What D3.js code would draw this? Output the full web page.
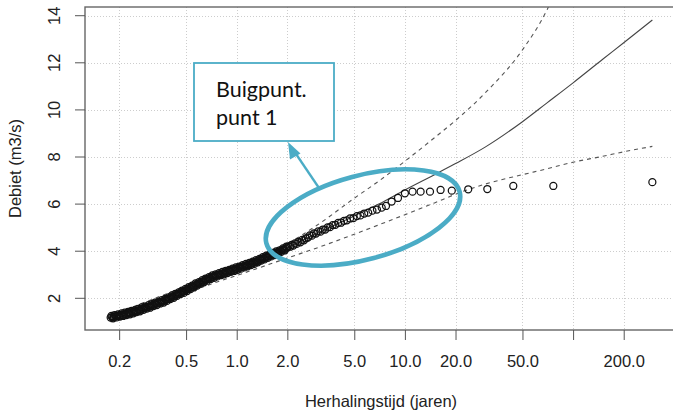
<!DOCTYPE html>
<html>
<head>
<meta charset="utf-8">
<script src="https://cdn.jsdelivr.net/npm/d3@7"></script>
<style>
  html, body { margin: 0; padding: 0; background: #fff; }
  svg { display: block; }
  .rtext { font-family: "Liberation Sans", Arial, sans-serif; font-size: 16.5px; fill: #222; }
</style>
</head>
<body>
<svg id="chart" width="673" height="414"></svg>
<script>
// Observed discharges (m3/s) against their return period (years)
const returnPeriod = [
  0.178, 0.180, 0.182, 0.184, 0.186, 0.188, 0.191, 0.193, 0.195, 0.197,
  0.200, 0.202, 0.204, 0.207, 0.209, 0.211, 0.214, 0.216, 0.219, 0.221,
  0.224, 0.226, 0.229, 0.232, 0.234, 0.237, 0.240, 0.243, 0.246, 0.248,
  0.251, 0.254, 0.257, 0.260, 0.263, 0.266, 0.269, 0.272, 0.275, 0.279,
  0.282, 0.285, 0.288, 0.292, 0.295, 0.299, 0.302, 0.305, 0.309, 0.313,
  0.316, 0.320, 0.324, 0.327, 0.331, 0.335, 0.339, 0.343, 0.347, 0.351,
  0.355, 0.359, 0.363, 0.368, 0.372, 0.376, 0.380, 0.385, 0.389, 0.394,
  0.398, 0.403, 0.407, 0.412, 0.417, 0.422, 0.427, 0.432, 0.437, 0.442,
  0.447, 0.452, 0.457, 0.463, 0.468, 0.474, 0.479, 0.485, 0.490, 0.496,
  0.501, 0.507, 0.513, 0.519, 0.525, 0.531, 0.537, 0.543, 0.550, 0.556,
  0.562, 0.569, 0.575, 0.582, 0.589, 0.596, 0.603, 0.610, 0.617, 0.624,
  0.631, 0.638, 0.646, 0.653, 0.661, 0.669, 0.676, 0.684, 0.692, 0.700,
  0.708, 0.716, 0.724, 0.733, 0.741, 0.750, 0.759, 0.767, 0.776, 0.785,
  0.794, 0.804, 0.813, 0.822, 0.832, 0.841, 0.851, 0.861, 0.871, 0.881,
  0.891, 0.902, 0.912, 0.923, 0.933, 0.944, 0.955, 0.966, 0.977, 0.989,
  1.000, 1.012, 1.023, 1.035, 1.047, 1.059, 1.072, 1.084, 1.096, 1.109,
  1.122, 1.135, 1.148, 1.161, 1.175, 1.189, 1.202, 1.216, 1.230, 1.245,
  1.259, 1.274, 1.288, 1.303, 1.318, 1.334, 1.349, 1.365, 1.380, 1.396,
  1.413, 1.429, 1.445, 1.462, 1.479, 1.496, 1.514, 1.531, 1.549, 1.567,
  1.585, 1.603, 1.622, 1.641, 1.660, 1.679, 1.698, 1.718, 1.738, 1.758,
  1.778, 1.799, 1.820, 1.841, 1.862, 1.884, 1.905, 1.928, 1.950, 1.972,
  1.995,
  2.03, 2.08, 2.12, 2.17, 2.22, 2.27, 2.33, 2.39, 2.45, 2.51,
  2.58, 2.65, 2.72, 2.80, 2.88, 2.96, 3.05, 3.15, 3.25, 3.36,
  3.47, 3.59, 3.72, 3.86, 4.01, 4.17, 4.34, 4.52, 4.72, 4.94,
  5.18, 5.44, 5.73, 6.05, 6.41, 6.82, 7.28, 7.72, 8.34, 9.10,
  10.0, 11.1, 12.4, 14.1, 16.3, 19.0, 23.8, 30.9, 44.1, 76.3, 296
];
const discharge = [
  1.18, 1.25, 1.20, 1.15, 1.21, 1.29, 1.24, 1.19, 1.25, 1.32,
  1.26, 1.22, 1.29, 1.36, 1.30, 1.25, 1.31, 1.39, 1.34, 1.29,
  1.36, 1.42, 1.36, 1.32, 1.40, 1.47, 1.42, 1.36, 1.42, 1.50,
  1.46, 1.41, 1.48, 1.55, 1.49, 1.45, 1.53, 1.61, 1.56, 1.51,
  1.57, 1.65, 1.60, 1.56, 1.64, 1.71, 1.65, 1.60, 1.67, 1.75,
  1.71, 1.67, 1.75, 1.82, 1.76, 1.71, 1.78, 1.86, 1.82, 1.78,
  1.85, 1.92, 1.86, 1.82, 1.90, 1.98, 1.94, 1.89, 1.96, 2.04,
  2.00, 1.97, 2.05, 2.12, 2.06, 2.02, 2.10, 2.19, 2.15, 2.10,
  2.17, 2.25, 2.21, 2.18, 2.26, 2.33, 2.27, 2.23, 2.31, 2.40,
  2.36, 2.31, 2.38, 2.47, 2.43, 2.39, 2.47, 2.54, 2.49, 2.46,
  2.54, 2.63, 2.59, 2.54, 2.60, 2.69, 2.65, 2.62, 2.70, 2.77,
  2.71, 2.68, 2.76, 2.84, 2.80, 2.75, 2.82, 2.90, 2.86, 2.82,
  2.90, 2.97, 2.91, 2.87, 2.94, 3.02, 2.98, 2.93, 2.99, 3.07,
  3.02, 2.98, 3.05, 3.12, 3.06, 3.02, 3.09, 3.17, 3.12, 3.07,
  3.13, 3.21, 3.16, 3.12, 3.19, 3.26, 3.20, 3.16, 3.23, 3.31,
  3.26, 3.21, 3.27, 3.35, 3.30, 3.26, 3.34, 3.41, 3.35, 3.31,
  3.38, 3.46, 3.41, 3.36, 3.42, 3.50, 3.45, 3.41, 3.49, 3.56,
  3.50, 3.46, 3.54, 3.62, 3.58, 3.53, 3.59, 3.67, 3.63, 3.60,
  3.68, 3.75, 3.69, 3.65, 3.73, 3.81, 3.77, 3.72, 3.78, 3.86,
  3.82, 3.78, 3.86, 3.93, 3.87, 3.83, 3.91, 3.99, 3.95, 3.90,
  3.96, 4.04, 4.00, 3.97, 4.05, 4.12, 4.06, 4.03, 4.11, 4.19,
  4.15,
  4.21, 4.19, 4.27, 4.24, 4.33, 4.31, 4.40, 4.38, 4.48, 4.46,
  4.55, 4.58, 4.67, 4.66, 4.76, 4.75, 4.84, 4.83, 4.92, 4.92,
  5.01, 5.02, 5.11, 5.12, 5.20, 5.21, 5.29, 5.31, 5.39, 5.41,
  5.49, 5.52, 5.60, 5.64, 5.72, 5.77, 5.85, 5.92, 6.11, 6.26,
  6.46, 6.53, 6.53, 6.53, 6.60, 6.57, 6.63, 6.64, 6.77, 6.77, 6.93
];

// Fitted distribution with its confidence band
const curveT  = [0.178, 0.2, 0.3, 0.5, 0.7, 1, 1.5, 2, 3, 5, 7, 10, 15, 20, 30, 50, 70, 100, 150, 200, 296];
const fitQ    = [1.15, 1.28, 1.74, 2.36, 2.80, 3.22, 3.72, 4.15, 4.75, 5.50, 6.00, 6.60, 7.25, 7.72, 8.42, 9.50, 10.30, 11.15, 12.15, 12.85, 13.82];
const upperQ  = [1.30, 1.42, 1.90, 2.52, 2.96, 3.38, 3.88, 4.32, 5.10, 6.25, 6.98, 7.82, 8.82, 9.55, 10.72, 12.55, 14.25, 17.0, 20.0, 22.0, 25.0];
const lowerQ  = [1.00, 1.10, 1.60, 2.22, 2.60, 2.97, 3.40, 3.71, 4.14, 4.72, 5.12, 5.55, 6.05, 6.42, 6.85, 7.25, 7.50, 7.78, 8.03, 8.22, 8.45];

// Axis ticks
const xTickValues = [0.2, 0.5, 1, 2, 5, 10, 20, 50, 100, 200];
const xTickLabels = ["0.2", "0.5", "1.0", "2.0", "5.0", "10.0", "20.0", "50.0", "", "200.0"];
const yTickValues = [2, 4, 6, 8, 10, 12, 14];

const xTitle = "Herhalingstijd (jaren)";
const yTitle = "Debiet (m3/s)";
const noteLines = ["Buigpunt.", "punt 1"];

const teal = "#4bacc6";
const pLeft = 85, pRight = 677, pTop = 7, pBottom = 330;

const svg = d3.select("#chart");
const x = d3.scaleLog().domain([0.1253, 414.8]).range([pLeft, pRight]);
const y = d3.scaleLinear().domain([0.654, 14.37]).range([pBottom, pTop]);

svg.append("defs").append("clipPath").attr("id", "plotclip")
  .append("rect").attr("x", pLeft).attr("y", pTop).attr("width", pRight - pLeft).attr("height", pBottom - pTop);

// dotted grid
const grid = svg.append("g").attr("stroke", "#cdcdcd").attr("stroke-width", 1).attr("stroke-dasharray", "1,2");
grid.selectAll("line.v").data(xTickValues).join("line").attr("class", "v")
  .attr("x1", d => Math.round(x(d)) + 0.5).attr("x2", d => Math.round(x(d)) + 0.5)
  .attr("y1", pTop).attr("y2", pBottom);
grid.selectAll("line.h").data(yTickValues).join("line").attr("class", "h")
  .attr("y1", d => Math.round(y(d)) + 0.5).attr("y2", d => Math.round(y(d)) + 0.5)
  .attr("x1", pLeft).attr("x2", pRight);

// curves
const plot = svg.append("g").attr("clip-path", "url(#plotclip)");
const lineOf = vals => d3.line().x((d, i) => x(curveT[i])).y(d => y(d)).curve(d3.curveMonotoneX)(vals);
plot.append("path").attr("d", lineOf(fitQ)).attr("fill", "none").attr("stroke", "#444").attr("stroke-width", 1.1);
[upperQ, lowerQ].forEach(v => {
  plot.append("path").attr("d", lineOf(v)).attr("fill", "none").attr("stroke", "#555")
    .attr("stroke-width", 1.1).attr("stroke-dasharray", "4,4");
});

// observed points
plot.selectAll("circle.obs").data(returnPeriod).join("circle")
  .attr("class", "obs")
  .attr("cx", d => x(d)).attr("cy", (d, i) => y(discharge[i]))
  .attr("r", 3.5).attr("fill", "none").attr("stroke", "#111").attr("stroke-width", 1.25);

// box
svg.append("rect").attr("x", pLeft).attr("y", pTop).attr("width", pRight - pLeft + 10).attr("height", pBottom - pTop)
  .attr("fill", "none").attr("stroke", "#666").attr("stroke-width", 1.4);

// x axis
const xAxis = svg.append("g").attr("transform", `translate(0,${pBottom})`)
  .call(d3.axisBottom(x).tickValues(xTickValues).tickFormat((d, i) => xTickLabels[i]).tickSize(10).tickPadding(15));
xAxis.select(".domain").remove();
xAxis.selectAll("line").attr("stroke", "#555");
xAxis.attr("font-family", null).attr("font-size", null);
xAxis.selectAll("text").attr("class", "rtext").attr("fill", null);

// y axis
const yAxis = svg.append("g");
yAxis.selectAll("line").data(yTickValues).join("line")
  .attr("x1", pLeft - 10).attr("x2", pLeft)
  .attr("y1", d => y(d)).attr("y2", d => y(d)).attr("stroke", "#555");
yAxis.selectAll("text").data(yTickValues).join("text")
  .attr("class", "rtext").attr("text-anchor", "middle")
  .attr("transform", d => `translate(60,${y(d)}) rotate(-90)`)
  .text(d => d);

// titles
svg.append("text").attr("class", "rtext").attr("text-anchor", "middle")
  .attr("x", (pLeft + pRight) / 2).attr("y", 407).text(xTitle);
svg.append("text").attr("class", "rtext").attr("text-anchor", "middle")
  .attr("transform", `translate(21,${(pTop + pBottom) / 2}) rotate(-90)`).text(yTitle);

// highlight of the bend in the series
svg.append("ellipse").attr("cx", 363).attr("cy", 217.5).attr("rx", 100).attr("ry", 42)
  .attr("transform", "rotate(-15,363,217.5)")
  .attr("fill", "none").attr("stroke", teal).attr("stroke-width", 4.6);

// arrow to the note
svg.append("line").attr("x1", 319).attr("y1", 188).attr("x2", 294).attr("y2", 151)
  .attr("stroke", teal).attr("stroke-width", 2.3);
svg.append("path").attr("d", "M288,142 L300.5,153.5 L290,159.5 Z").attr("fill", teal);

// note box
svg.append("rect").attr("x", 194).attr("y", 63).attr("width", 140).attr("height", 78)
  .attr("fill", "#fff").attr("stroke", teal).attr("stroke-width", 1.8);
svg.selectAll("text.note").data(noteLines).join("text")
  .attr("class", "note").attr("x", 216).attr("y", (d, i) => 96.7 + i * 28.3)
  .attr("font-family", "Lato, 'Open Sans', sans-serif").attr("font-size", 21.5).attr("fill", "#111")
  .text(d => d);
</script>
</body>
</html>
